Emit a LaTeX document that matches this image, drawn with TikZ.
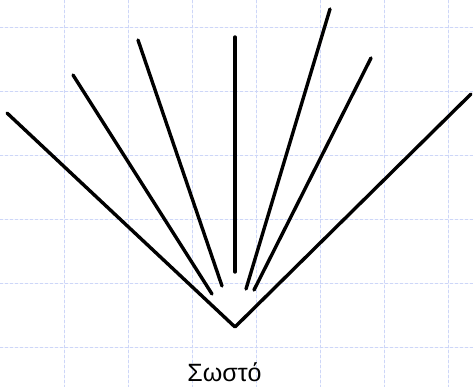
\documentclass[tikz,border=0pt]{standalone}
\usepackage{fontspec}
\setmainfont{Liberation Sans}
\definecolor{gridblue}{RGB}{205,214,248}
\begin{document}
\begin{tikzpicture}[x=1pt,y=-1pt,line cap=round,line join=round,
  gridline/.style={draw=gridblue,line width=.8pt,dash pattern=on 3pt off 2pt},
  stroke/.style={line width=3.4pt}]
  \useasboundingbox (0,0) rectangle (473,387);
  \foreach \x in {64,128,...,448} \draw[gridline] (\x,0)--(\x,387);
  \foreach \y in {27,91,...,347} \draw[gridline] (0,\y)--(473,\y);
  % the V
  \coordinate (apex) at (235,327);
  \coordinate (vl) at (7,113); \coordinate (vr) at (471,94);
  \draw[stroke] (vl)--(apex)--(vr);
  % the fan
  \coordinate (a1) at (73,75);  \coordinate (a2) at (212,294);
  \coordinate (b1) at (138,40); \coordinate (b2) at (222,286);
  \coordinate (c1) at (235,37); \coordinate (c2) at (235,272);
  \coordinate (d1) at (330,9);  \coordinate (d2) at (246,289);
  \coordinate (e1) at (371,58); \coordinate (e2) at (254,290);
  \foreach \p in {a,b,c,d,e} \draw[stroke] (\p1)--(\p2);
  \node[anchor=base,inner sep=0pt,font=\fontsize{25}{30}\selectfont] (label) at (224.5,381) {Σωστό};
\end{tikzpicture}
\end{document}
